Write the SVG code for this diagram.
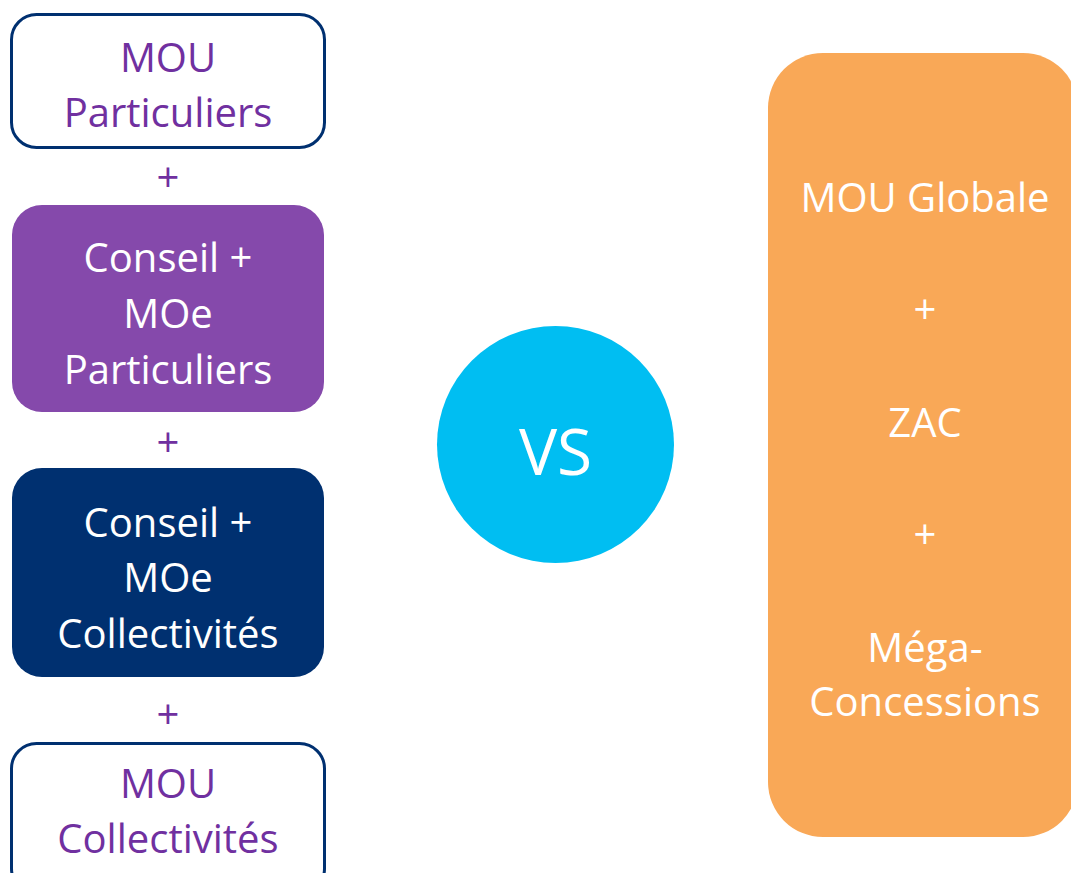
<svg xmlns="http://www.w3.org/2000/svg" width="1071" height="873" viewBox="0 0 1071 873">
<style>
text{font-family:"Open Sans","Noto Sans",sans-serif;font-size:40px;text-anchor:middle}
.p{fill:#7030A0}
.w{fill:#FFFFFF}
.outline{fill:#FFFFFF;stroke:#003070;stroke-width:3}
</style>
<rect width="1071" height="873" fill="#FFFFFF"/>
<g id="mou-particuliers">
<rect class="outline" x="11.5" y="14.5" width="313" height="133" rx="25"/>
<text class="p" x="168" y="72">MOU</text>
<text class="p" x="168" y="127">Particuliers</text>
</g>
<g id="plus1"><text class="p" x="168" y="192">+</text></g>
<g id="conseil-moe-particuliers">
<rect x="12" y="205" width="312" height="207" rx="30" fill="#8549AB"/>
<text class="w" x="168" y="272">Conseil +</text>
<text class="w" x="168" y="328">MOe</text>
<text class="w" x="168" y="384">Particuliers</text>
</g>
<g id="plus2"><text class="p" x="168" y="457">+</text></g>
<g id="conseil-moe-collectivites">
<rect x="12" y="468" width="312" height="209" rx="30" fill="#003070"/>
<text class="w" x="168" y="537">Conseil +</text>
<text class="w" x="168" y="592">MOe</text>
<text class="w" x="168" y="648">Collectivités</text>
</g>
<g id="plus3"><text class="p" x="168" y="729">+</text></g>
<g id="mou-collectivites">
<rect class="outline" x="11.5" y="743.5" width="313" height="150" rx="25"/>
<text class="p" x="168" y="798">MOU</text>
<text class="p" x="168" y="853">Collectivités</text>
</g>
<g id="vs">
<circle cx="555.5" cy="444.5" r="118.5" fill="#00BEF2"/>
<text class="w" x="555.5" y="475" style="font-size:64px">VS</text>
</g>
<g id="mou-globale">
<rect x="768" y="53" width="310" height="784" rx="55" fill="#F9A857"/>
<text class="w" x="925" y="212">MOU Globale</text>
<text class="w" x="925" y="324">+</text>
<text class="w" x="925" y="437">ZAC</text>
<text class="w" x="925" y="549">+</text>
<text class="w" x="925" y="662">Méga-</text>
<text class="w" x="925" y="716">Concessions</text>
</g>
<g id="connectors"></g>
</svg>
